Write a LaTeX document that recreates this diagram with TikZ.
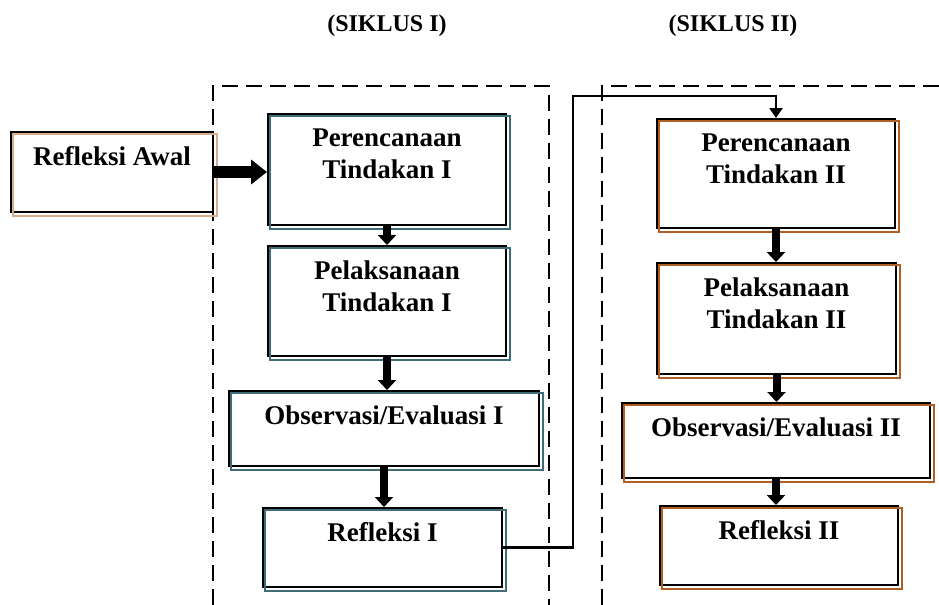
\documentclass[tikz,border=0pt]{standalone}
\usepackage{fontspec}
\setmainfont{Liberation Serif}
\usetikzlibrary{arrows.meta}

\definecolor{rimI}{RGB}{64,108,120}
\definecolor{rimII}{RGB}{176,96,36}
\definecolor{rimA}{RGB}{214,172,140}

\tikzset{
  stage/.style={draw, line width=1pt, inner sep=0pt},
  caption/.style={font=\bfseries\fontsize{13.5}{16}\selectfont, align=center,
    inner sep=0pt, anchor=north, yshift=-7.5pt},
  bigarrow/.style={line width=6pt, -{Triangle[length=8pt,width=12pt]}},
  steparrow/.style={line width=4pt, -{Triangle[length=5pt,width=9pt]}},
  jump/.style={line width=1.2pt, -{Triangle[length=5pt,width=6.5pt]}},
  cyclebox/.style={line width=0.8pt, dash pattern=on 8pt off 4pt},
}

\begin{document}
\begin{tikzpicture}[x=0.5pt,y=-0.5pt]
    \useasboundingbox (0,0) rectangle (939,605);

    % cycle headings
    \node[font=\bfseries\fontsize{12}{14}\selectfont, anchor=base] (h1) at (387,32) {(SIKLUS I)};
    \node[font=\bfseries\fontsize{12}{14}\selectfont, anchor=base] (h2) at (733,32) {(SIKLUS II)};

    % dashed cycle frames
    \draw[cyclebox] (213,605) -- (213,86) -- (549,86) -- (549,605);
    \draw[cyclebox] (602,605) -- (602,86) -- (939,86);

    % starting box
    \node[stage, minimum width=101pt, minimum height=40pt,
      label={[caption]north:Refleksi Awal}] (awal) at (112,172) {};

    % Left side: cycle I
    \node[stage, minimum width=119pt, minimum height=55.5pt,
      label={[caption]north:{Perencanaan\\Tindakan I}}] (pt1) at (387,169.5) {};
    \node[stage, minimum width=119pt, minimum height=55pt,
      label={[caption]north:{Pelaksanaan\\Tindakan I}}] (pl1) at (387,301) {};
    \node[stage, minimum width=155pt, minimum height=37.5pt,
      label={[caption]north:Observasi/Evaluasi I}] (ob1) at (384,428.5) {};
    \node[stage, minimum width=119.5pt, minimum height=39.5pt,
      label={[caption]north:Refleksi I}] (rf1) at (382.5,547.5) {};

    % Right side: cycle II
    \node[stage, minimum width=119pt, minimum height=54.5pt,
      label={[caption]north:{Perencanaan\\Tindakan II}}] (pt2) at (776,173.5) {};
    \node[stage, minimum width=119.5pt, minimum height=55.5pt,
      label={[caption]north:{Pelaksanaan\\Tindakan II}}] (pl2) at (776.5,318.5) {};
    \node[stage, minimum width=154pt, minimum height=37.5pt,
      label={[caption]north:Observasi/Evaluasi II}] (ob2) at (776,440.5) {};
    \node[stage, minimum width=119pt, minimum height=39.5pt,
      label={[caption]north:Refleksi II}] (rf2) at (779,545.5) {};

    % coloured second rims
    \draw[rimA, line width=0.8pt] ([xshift=1.5pt,yshift=-1.5pt]awal.north west)
      rectangle ([xshift=1.5pt,yshift=-1.5pt]awal.south east);
    \foreach \s in {pt1,pl1,ob1,rf1}
      \draw[rimI, line width=0.7pt] ([xshift=1.5pt,yshift=-1.5pt]\s.north west)
        rectangle ([xshift=1.5pt,yshift=-1.5pt]\s.south east);
    \foreach \s in {pt2,pl2,ob2,rf2}
      \draw[rimII, line width=0.7pt] ([xshift=1.5pt,yshift=-1.5pt]\s.north west)
        rectangle ([xshift=1.5pt,yshift=-1.5pt]\s.south east);

    % arrows
    \draw[bigarrow] (awal.east) -- (awal.east -| pt1.west);
    \draw[steparrow] (pt1.south) -- (pt1.south |- pl1.north);
    \draw[steparrow] (pl1.south) -- (pl1.south |- ob1.north);
    \draw[steparrow] (ob1.south) -- (ob1.south |- rf1.north);
    \draw[steparrow] (pt2.south) -- (pt2.south |- pl2.north);
    \draw[steparrow] (pl2.south) -- (pl2.south |- ob2.north);
    \draw[steparrow] (ob2.south) -- (ob2.south |- rf2.north);

    % link from cycle I to cycle II
    \coordinate (turn) at (573,96);
    \draw[jump] (rf1.east) -| (turn) -| (pt2.north);

\end{tikzpicture}
\end{document}
